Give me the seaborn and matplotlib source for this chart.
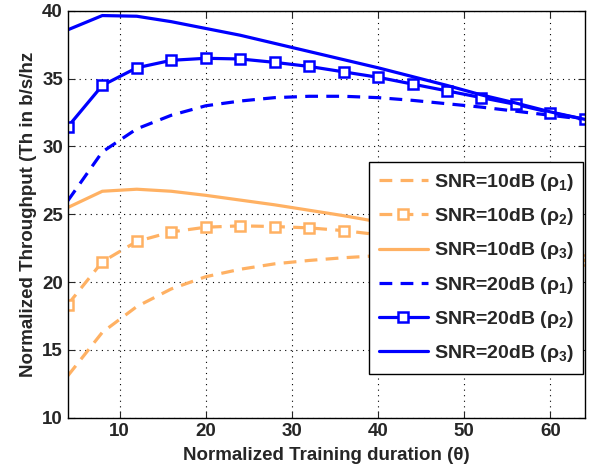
import matplotlib
matplotlib.use("Agg")
import matplotlib.pyplot as plt
import seaborn as sns
import pandas as pd

theta = [4, 8, 12, 16, 20, 24, 28, 32, 36, 40, 44, 48, 52, 56, 60, 64]

snr10_rho1 = [13.1, 16.3, 18.2, 19.5, 20.4, 20.95, 21.35, 21.6, 21.8, 21.95, 22.0, 22.0, 21.95, 21.85, 21.75, 21.6]
snr10_rho2 = [18.35, 21.5, 23.0, 23.7, 24.05, 24.15, 24.1, 24.0, 23.8, 23.5, 23.2, 22.85, 22.5, 22.2, 21.9, 21.6]
snr10_rho3 = [25.5, 26.7, 26.85, 26.7, 26.4, 26.05, 25.7, 25.3, 24.9, 24.45, 24.0, 23.5, 23.0, 22.55, 22.1, 21.6]
snr20_rho1 = [26.0, 29.6, 31.3, 32.3, 33.0, 33.35, 33.6, 33.7, 33.7, 33.6, 33.4, 33.15, 32.9, 32.6, 32.3, 32.0]
snr20_rho2 = [31.45, 34.5, 35.8, 36.35, 36.5, 36.45, 36.2, 35.9, 35.5, 35.1, 34.6, 34.1, 33.6, 33.1, 32.5, 32.0]
snr20_rho3 = [38.6, 39.65, 39.6, 39.2, 38.7, 38.2, 37.6, 37.0, 36.4, 35.8, 35.15, 34.5, 33.8, 33.2, 32.55, 32.0]

labels = ["SNR=10dB (ρ$_\\mathbf{1}$)", "SNR=10dB (ρ$_\\mathbf{2}$)", "SNR=10dB (ρ$_\\mathbf{3}$)",
          "SNR=20dB (ρ$_\\mathbf{1}$)", "SNR=20dB (ρ$_\\mathbf{2}$)", "SNR=20dB (ρ$_\\mathbf{3}$)"]
series = [snr10_rho1, snr10_rho2, snr10_rho3, snr20_rho1, snr20_rho2, snr20_rho3]

x_ticks = [10, 20, 30, 40, 50, 60]
y_ticks = [10, 15, 20, 25, 30, 35, 40]

orange = "#FFB163"
blue = "#0000FF"
colors = [orange, orange, orange, blue, blue, blue]
dashed = [True, True, False, True, False, False]
markers = [None, "s", None, None, "s", None]

sns.set_style("ticks")
plt.rcParams["font.family"] = ["Liberation Sans", "DejaVu Sans"]
plt.rcParams["font.weight"] = "bold"
plt.rcParams["mathtext.fontset"] = "custom"
plt.rcParams["mathtext.bf"] = "Liberation Sans:bold"
plt.rcParams["mathtext.rm"] = "Liberation Sans:bold"

fig = plt.figure(figsize=(5.95, 4.7), dpi=100)
ax = fig.add_axes([0.114, 0.111, 0.869, 0.866])

for vals, lab, c, d, m in zip(series, labels, colors, dashed, markers):
    df = pd.DataFrame({"theta": theta, "th": vals})
    kw = dict(x="theta", y="th", data=df, ax=ax, color=c, linewidth=2.3, label=lab)
    if m:
        kw.update(marker=m, markersize=6.5, markerfacecolor="white", markeredgecolor=c, markeredgewidth=1.8)
    sns.lineplot(**kw)
    ln = ax.get_lines()[-1]
    if d:
        ln.set_dashes((4, 2.6))

ax.set_xlim(4, 64)
ax.set_ylim(10, 40)
ax.set_xticks(x_ticks)
ax.set_yticks(y_ticks)
ax.grid(True, color="black", linestyle=(0, (1, 4)), linewidth=0.8)
ax.tick_params(direction="in", top=True, right=True, length=5, width=0.8, labelsize=13.5)
for t in ax.get_xticklabels() + ax.get_yticklabels():
    t.set_fontweight("bold")
for s in ax.spines.values():
    s.set_linewidth(1.0)
    s.set_color("black")

ax.set_xlabel("Normalized Training duration (θ)", fontsize=13.5, fontweight="bold", labelpad=5)
ax.set_ylabel("Normalized Throughput (Th in b/s/hz", fontsize=13.5, fontweight="bold", labelpad=4)

leg = ax.legend(loc="lower right", bbox_to_anchor=(0.997, 0.108), fontsize=14, frameon=True,
                fancybox=False, edgecolor="black", framealpha=1, handlelength=2.5,
                labelspacing=0.68, borderpad=0.5, handletextpad=0.3, borderaxespad=0)
leg.get_frame().set_linewidth(1.0)
for t in leg.get_texts():
    t.set_fontweight("bold")

fig.savefig("out.png", dpi=100)
